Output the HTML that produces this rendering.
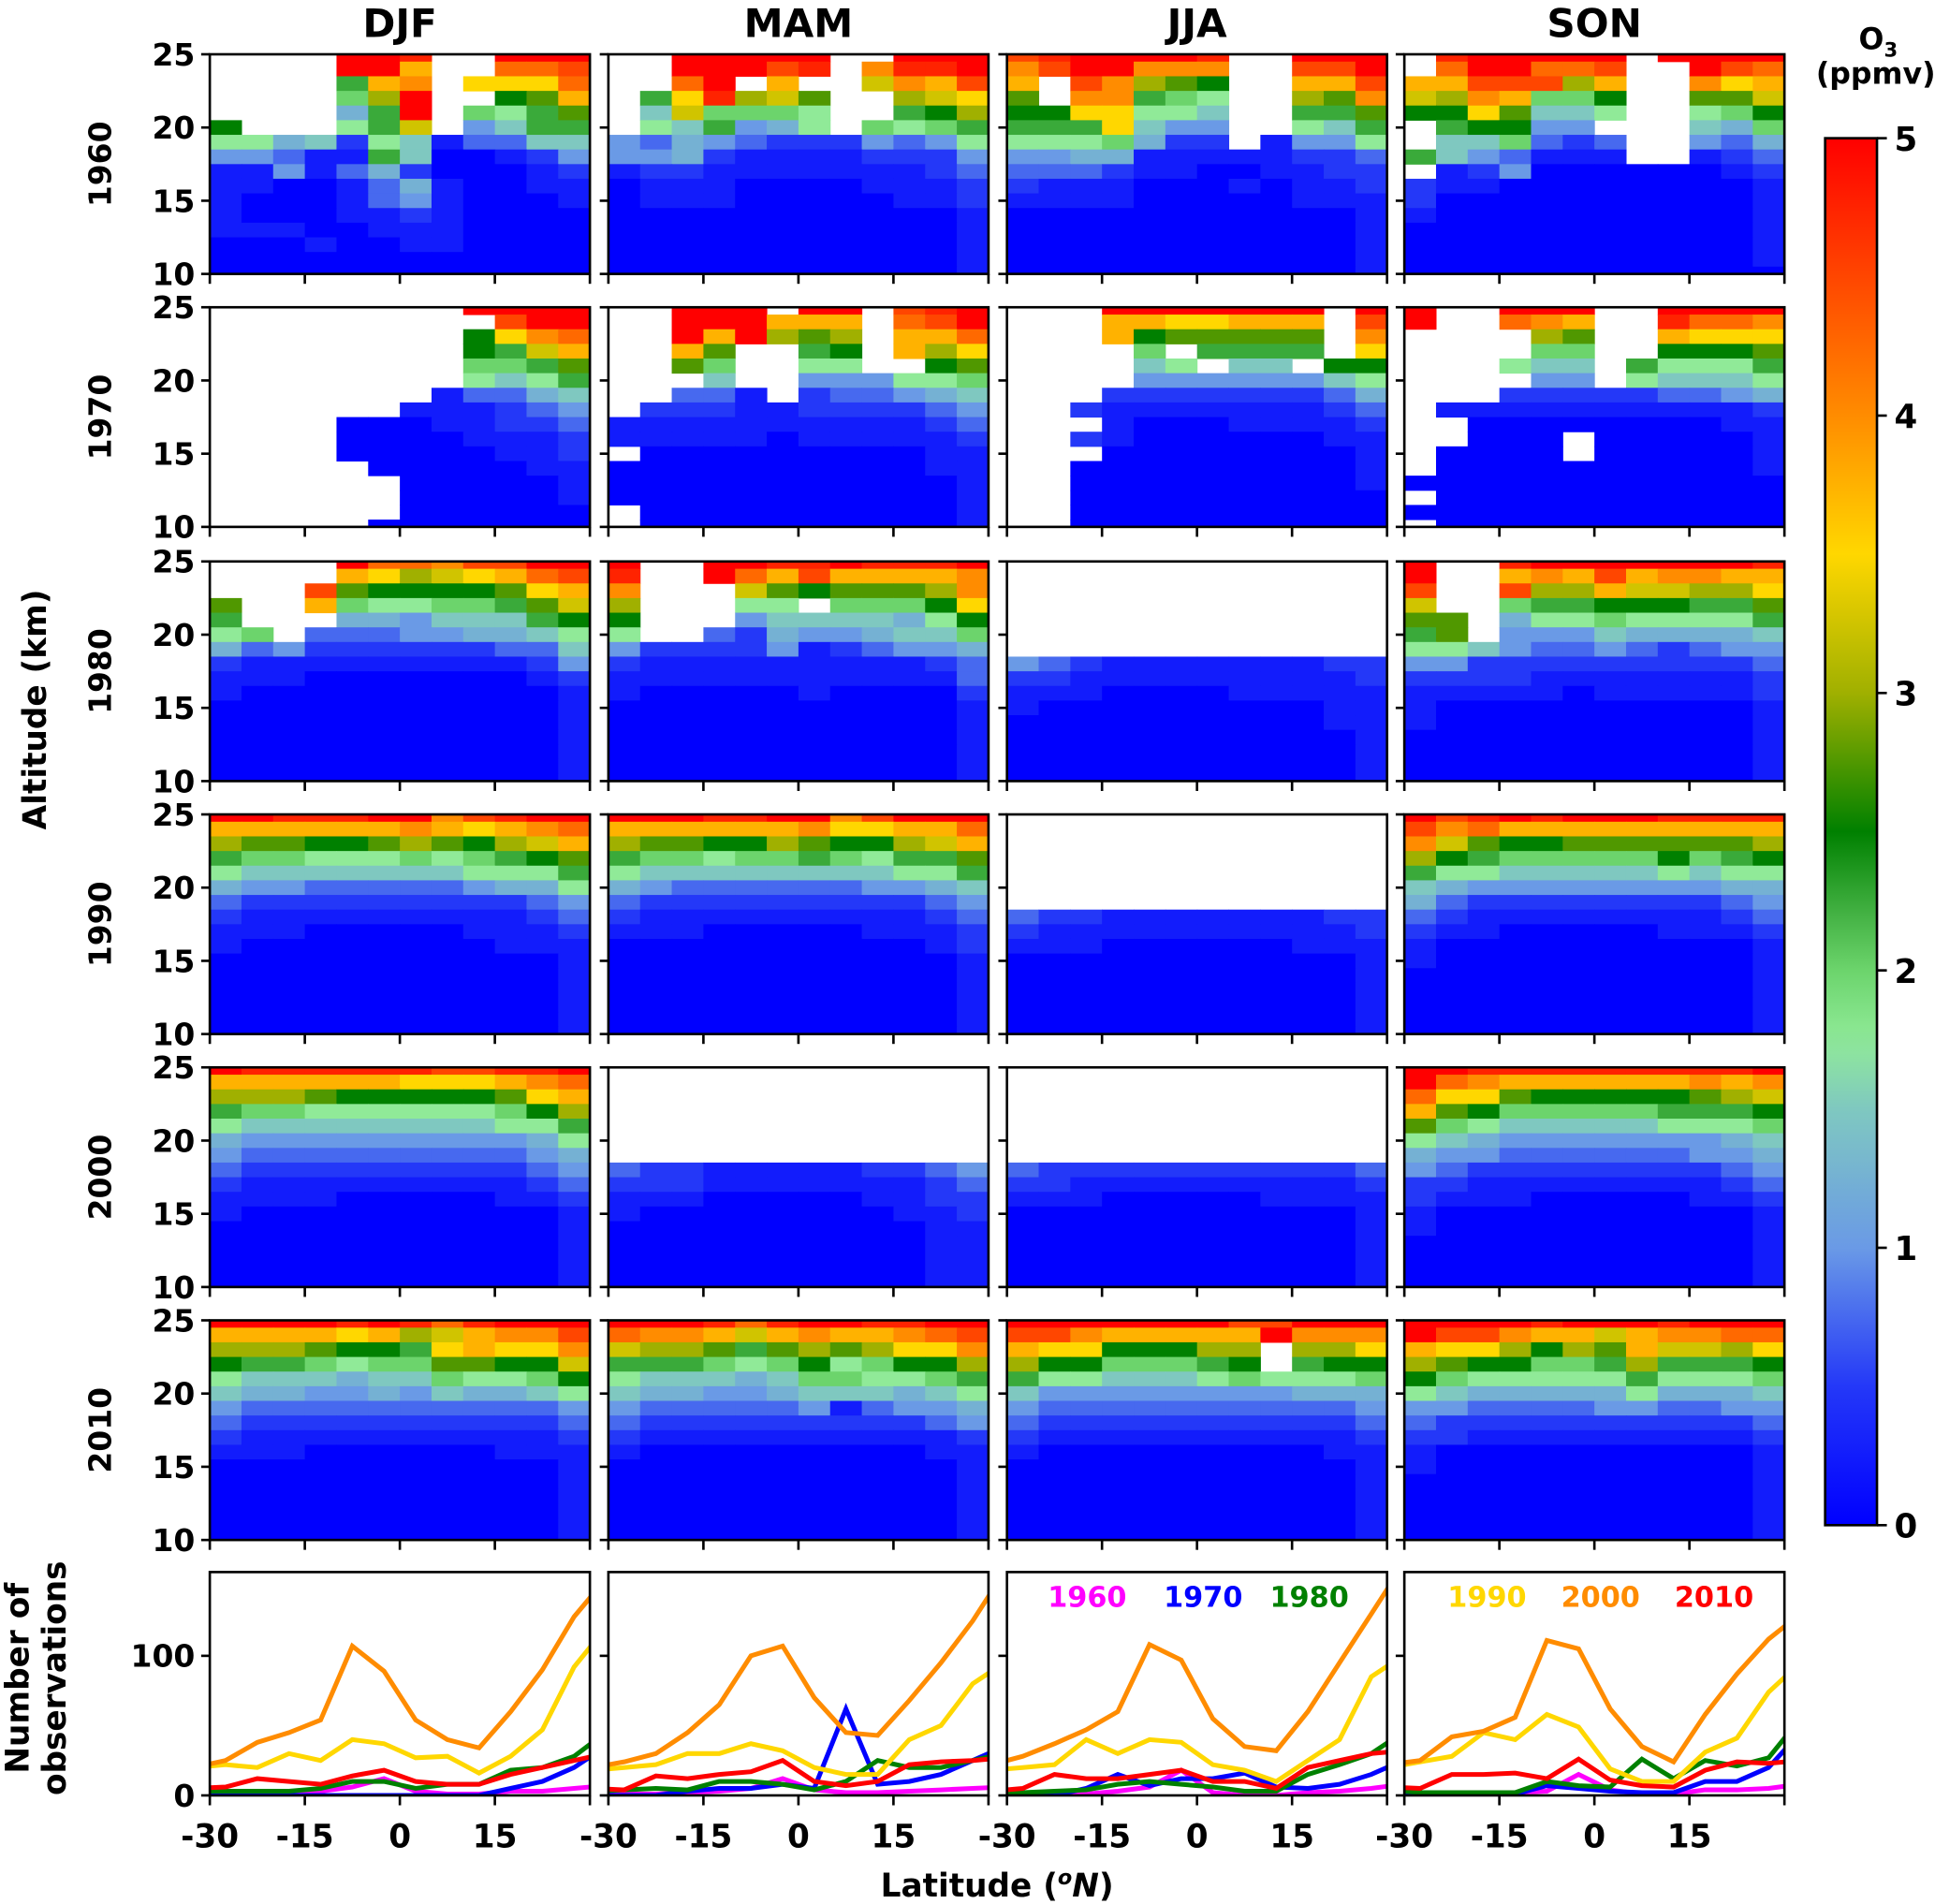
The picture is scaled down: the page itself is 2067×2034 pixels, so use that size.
<!DOCTYPE html>
<html><head><meta charset="utf-8">
<style>
html,body{margin:0;padding:0;background:#fff;}
svg{display:block;font-family:"DejaVu Sans","Liberation Sans",sans-serif;font-weight:bold;}
</style></head>
<body>
<svg id="fig" width="2067" height="2034" viewBox="0 0 1568 1543" xmlns="http://www.w3.org/2000/svg"></svg>
<script>
// ---------- data ----------
const seasons = ["DJF","MAM","JJA","SON"];
const decades = ["1960","1970","1980","1990","2000","2010"];
const altTicks = [10,15,20,25];
const latTicks = [-30,-15,0,15,30];
const latTickLabels = ["-30","-15","0","15",""];
const cbTicks = [0,1,2,3,4,5];
const obsTicks = [0,100];
const obsLat = [-32.5,-27.5,-22.5,-17.5,-12.5,-7.5,-2.5,2.5,7.5,12.5,17.5,22.5,27.5,32.5];
// ozone grids: 16 rows (25 km .. 10 km), 12 lat bins (-30..30); char = value*4 in base 36, '.' = missing
const o3_DJF_1960 = ["....kkj..kkk","....kkf..hhi","....9fg.eeeh","....8ck..abf","....59k.879b","a...79d.4699","775627613366","443119600124","114135200012","110013510011","100013410001","100011210000","111001110000","000100110000","000000000000","000000000000"];
const o3_MAM_1960 = ["..kkkkk..kkk","..kkkij.gjjk","..hk.f..dgfi",".9ejcdb..cde",".6d8887..9ac",".769457.8789","435432224347","445211112224","122111111123","011100001112","011100000112","000000000001","000000000001","000000000001","000000000001","000000000001"];
const o3_JJA_1960 = ["ijkkkkj..kkk","gikkggg..iik","f.igcba..ffi","b.gg987..cbg","aaee776..99b","999e644..769","7778522.1447","445511111223","333211001122","211100010112","111100000111","000000000001","000000000001","000000000001","000000000001","000000000001"];
const o3_SON_1960 = [".jkkkkk.kkkk",".hkkhhi..kih","ffiiicf..gef","dcgf88a..bbd","aaeb667..78a",".9aa44...658",".668323..435","9643111..123",".12400000012","211000000001","200000000001","100000000001","000000000001","000000000001","000000000001","000000000000"];
const o3_DJF_1970 = ["........kkkk",".........ikk","........aegh","........a9df","........889b","........7679",".......13356","......111234","....00011223","....00001112","....00000112",".....0000011","......000001","......000001","......000000",".....0000000"];
const o3_MAM_1970 = ["..kkk.kk.ijk","..kkkfff.hik","..kfkcbc.ffh","..fb..9a.fce","..b8..77..ab","...6..444778","..331.233456",".22211222234","111111111123","111110111112",".00000000011","000000000011","000000000001","000000000001",".00000000001",".00000000001"];
const o3_JJA_1970 = ["...kkkkkkk.k","...ffeefff.i","...fabbbbb.g","....8.9999.e","....67.66.aa","....44444467","...222222235","..2111111123","...100011112","..2100000011","...000000001","..0000000001","..0000000001","..0000000000","..0000000000","..0000000000"];
const o3_SON_1970 = ["k..kkk..kkkk","k..hgf..jhhg","....cb..feee","....88..aaab","...766.97779","....44.76667","...222223345",".11111111112","..0000000011","..000.000001",".0000.000001",".00000000001","000000000000",".00000000000","000000000000",".00000000000"];
const o3_DJF_1980 = ["....khhgiikk","....fecdefhi","...ibaaaabef","b..f877889bd","9...5546669a","78.333445567","534222222336","211111111124","111000000012","100000000001","000000000001","000000000001","000000000001","000000000001","000000000001","000000000001"];
const o3_MAM_1980 = ["k..kkjjkjjjk","j..khfiffffg","g...dbabbbcg","c...77.888ae","a...4666657a","7..325445668","422224123445","211111111123","111111111113","100000100002","000000000001","000000000001","000000000001","000000000001","000000000001","000000000001"];
const o3_JJA_1980 = ["............","............","............","............","............","............","............","432111111122","221111111112","111000011111","100000000011","000000000011","000000000001","000000000001","000000000001","000000000001"];
const o3_SON_1980 = ["k..jkkkkkkkj","k..fgfifggff","i..iccfddcce","d..899aaa99b","bb.577877779","9b.444655556","776433432344","442222222223","222211111112","111110111112","100000000001","100000000001","000000000001","000000000001","000000000001","000000000001"];
const o3_DJF_1990 = ["kkjjjkkgijkk","ffffffgfefgh","cbbaabcbacdf","9887778789ab","766666667779","544333334557","322222222234","211111111123","111000001112","100000000111","000000000001","000000000001","000000000001","000000000001","000000000001","000000000001"];
const o3_MAM_1990 = ["kkkjjkkgikkk","ffffffgeeffh","cbbaacbaacdf","98878898799b","766666666779","543333334456","322222222234","211111111123","111000001112","000000000012","000000000001","000000000001","000000000001","000000000001","000000000001","000000000001"];
const o3_JJA_1990 = ["............","............","............","............","............","............","............","322111111122","211111111112","111000000111","000000000001","000000000001","000000000001","000000000001","000000000001","000000000001"];
const o3_SON_1990 = ["kijkjkkkjjjj","ighfffffffff","gdbaabbbbbbc","ca988888a89a","977666667677","654444444455","532222222234","321111111123","211000001112","100000000001","100000000001","000000000001","000000000001","000000000001","000000000001","000000000001"];
const o3_DJF_2000 = ["kjjjjjjiijjk","ffffffeeefgh","cccbaaaaabef","9887777778ac","766666666779","544444444457","433333333345","322222222234","211111111123","111100000112","100000000001","000000000001","000000000001","000000000001","000000000001","000000000001"];
const o3_MAM_2000 = ["............","............","............","............","............","............","............","322111112234","222111111123","111000001122","100000000112","000000000011","000000000011","000000000011","000000000011","000000000011"];
const o3_JJA_2000 = ["............","............","............","............","............","............","............","322222222223","221111111112","111000001111","000000000001","000000000001","000000000001","000000000001","000000000001","000000000001"];
const o3_SON_2000 = ["kkjjjjjjjjjk","khgffffffgfg","heebaaaaabcd","fba88888999a","b87666667778","765444444456","544333333445","432222222234","221111111123","211100000112","100000000001","100000000001","000000000001","000000000001","000000000001","000000000001"];
const o3_DJF_2010 = ["kkkkjkjhjkkk","ffffefcdfggi","cccbaa9efeeg","a998788bbaad","76665668778a","655445465567","433333333334","322222222223","211111111112","111000000111","000000000001","000000000001","000000000001","000000000001","000000000001","000000000001"];
const o3_MAM_2010 = ["kkkjhjkkjjkk","hggfdfgffghi","dccb9bcbceeg","999878a78aac","766656887789","655445666567","433333413445","322222222234","211111111112","100000000011","000000000001","000000000001","000000000001","000000000001","000000000001","000000000001"];
const o3_JJA_2010 = ["kkkkkkkiikkk","iigfffffkggg","feeaaacc.cce","caa8889a.9aa","977666787778","644444444555","433333333334","322222222223","211111111112","100000000011","000000000001","000000000001","000000000001","000000000001","000000000001","000000000001"];
const o3_SON_2010 = ["kkkkjkkkjkkk","kiigffdfgghh","feecacbfddce","cbaa889c999a","a87777797778","765555575556","443333443344","322222222223","221111111112","100000000001","100000000001","000000000001","000000000001","000000000001","000000000001","000000000001"];
// number of observations per season (series by decade)
const obs_DJF_1960 = [0,0,0,0,3,6,12,3,1,1,3,3,5,7];
const obs_DJF_1970 = [0,0,0,0,0,0,0,0,0,0,5,10,20,35];
const obs_DJF_1980 = [3,3,3,3,5,10,10,5,8,8,18,20,28,45];
const obs_DJF_1990 = [20,22,20,30,25,40,37,27,28,16,28,47,92,120];
const obs_DJF_2000 = [20,25,38,45,54,107,89,54,40,34,60,90,128,155];
const obs_DJF_2010 = [5,6,12,10,8,14,18,10,8,8,15,20,25,30];
const obs_MAM_1960 = [0,1,1,2,3,5,12,4,2,2,3,4,5,6];
const obs_MAM_1970 = [0,0,0,3,5,5,8,5,62,8,10,15,25,35];
const obs_MAM_1980 = [3,4,5,4,10,10,8,4,10,25,20,20,25,30];
const obs_MAM_1990 = [18,20,22,30,30,37,32,20,15,15,40,50,80,95];
const obs_MAM_2000 = [20,24,30,45,65,100,107,70,45,43,68,95,125,160];
const obs_MAM_2010 = [5,4,14,12,15,17,25,10,7,10,22,24,25,27];
const obs_JJA_1960 = [0,0,0,1,3,6,18,2,0,0,2,3,5,8];
const obs_JJA_1970 = [0,0,0,5,15,7,12,12,16,6,5,8,15,25];
const obs_JJA_1980 = [2,2,3,4,8,10,8,6,3,3,15,22,30,45];
const obs_JJA_1990 = [18,20,22,40,30,40,38,22,18,10,25,40,85,100];
const obs_JJA_2000 = [22,28,37,47,60,108,97,55,35,32,60,95,130,165];
const obs_JJA_2010 = [3,5,15,12,12,15,18,10,10,5,20,25,30,32];
const obs_SON_1960 = [0,0,1,2,2,3,15,4,1,1,4,4,5,8];
const obs_SON_1970 = [1,1,1,1,1,7,5,3,2,2,10,10,20,45];
const obs_SON_1980 = [4,2,2,2,2,10,7,6,26,12,25,21,27,55];
const obs_SON_1990 = [20,24,28,45,40,58,49,19,10,10,31,41,74,95];
const obs_SON_2000 = [22,25,42,46,56,111,105,62,35,24,58,87,112,130];
const obs_SON_2010 = [6,5,15,15,16,12,26,11,7,6,18,24,23,25];

const o3Grids = {DJF:[o3_DJF_1960,o3_DJF_1970,o3_DJF_1980,o3_DJF_1990,o3_DJF_2000,o3_DJF_2010],
 MAM:[o3_MAM_1960,o3_MAM_1970,o3_MAM_1980,o3_MAM_1990,o3_MAM_2000,o3_MAM_2010],
 JJA:[o3_JJA_1960,o3_JJA_1970,o3_JJA_1980,o3_JJA_1990,o3_JJA_2000,o3_JJA_2010],
 SON:[o3_SON_1960,o3_SON_1970,o3_SON_1980,o3_SON_1990,o3_SON_2000,o3_SON_2010]};
const obsSeries = {DJF:[obs_DJF_1960,obs_DJF_1970,obs_DJF_1980,obs_DJF_1990,obs_DJF_2000,obs_DJF_2010],
 MAM:[obs_MAM_1960,obs_MAM_1970,obs_MAM_1980,obs_MAM_1990,obs_MAM_2000,obs_MAM_2010],
 JJA:[obs_JJA_1960,obs_JJA_1970,obs_JJA_1980,obs_JJA_1990,obs_JJA_2000,obs_JJA_2010],
 SON:[obs_SON_1960,obs_SON_1970,obs_SON_1980,obs_SON_1990,obs_SON_2000,obs_SON_2010]};
const decadeColors = ["#ff00ff","#0000ff","#008000","#ffd700","#ff8c00","#ff0000"];

// ---------- layout ----------
const NS="http://www.w3.org/2000/svg";
const svg=document.getElementById('fig');
const colX=[170,493,816,1138], PW=308;
const rowY=[44,249,455,660,865,1070], PH=178;
const obsY=1274, obsH=181;
function el(tag,attrs,parent){const e=document.createElementNS(NS,tag);for(const k in attrs)e.setAttribute(k,attrs[k]);(parent||svg).appendChild(e);return e;}
function txt(x,y,s,size,anchor,parent,fill){const t=el('text',{x:x,y:y,'font-size':size,'text-anchor':anchor||'middle',fill:fill||'#000'},parent);t.textContent=s;return t;}
const stops=[[0,[0,0,255]],[0.5,[36,56,248]],[1,[106,154,230]],[1.5,[127,200,192]],[1.75,[144,234,152]],[2,[108,212,108]],[2.25,[58,170,58]],[2.5,[0,128,0]],[3,[160,176,0]],[3.5,[255,215,0]],[4,[255,140,0]],[5,[255,0,0]]];
function cmap(v){v=Math.max(0,Math.min(5,v));for(let i=1;i<stops.length;i++){if(v<=stops[i][0]){const a=stops[i-1],b=stops[i];const t=(v-a[0])/(b[0]-a[0]);const c=a[1].map((x,j)=>Math.round(x+(b[1][j]-x)*t));return `rgb(${c[0]},${c[1]},${c[2]})`;}}return 'rgb(255,0,0)';}
const xs=(x0,lat)=>x0+(lat+30)/60*PW;
const ys=(y0,alt)=>y0+(25-alt)/15*PH;

// column titles
seasons.forEach((s,ci)=>{const t=txt(colX[ci]+PW/2,30,s,32,'middle');});

// heatmap panels
seasons.forEach((s,ci)=>{
  decades.forEach((d,ri)=>{
    const x0=colX[ci], y0=rowY[ri];
    const g=el('g',{});
    
    
    const grid=o3Grids[s][ri];
    grid.forEach((row,r)=>{
      const alt=25-r;
      const top=Math.min(25,alt+0.5), bot=Math.max(10,alt-0.5);
      for(let c=0;c<12;c++){
        const ch=row[c]; if(!ch||ch==='.')continue;
        const v=parseInt(ch,36)/4;
        const latA=-30+5*c;
        const xa=xs(x0,latA), xb=xs(x0,latA+5);
        const ya=ys(y0,top), yb=ys(y0,bot);
        const rc=el('rect',{x:xa.toFixed(2),y:ya.toFixed(2),width:(xb-xa+0.4).toFixed(2),height:(yb-ya+0.4).toFixed(2),fill:cmap(v)},g);
        
        
      }
    });
    const fr=el('rect',{x:x0,y:y0,width:PW,height:PH,fill:'none',stroke:'#000','stroke-width':2});
    
    
    altTicks.forEach(a=>{const yy=ys(y0,a);el('line',{x1:x0-7,x2:x0,y1:yy,y2:yy,stroke:'#000','stroke-width':2});
      if(ci===0){const t=txt(x0-12,yy+9,String(a),25,'end');}});
    latTicks.forEach(l=>{const xx=xs(x0,l);el('line',{x1:xx,x2:xx,y1:y0+PH,y2:y0+PH+8,stroke:'#000','stroke-width':2});});
    if(ci===0){const t=el('text',{x:0,y:0,'font-size':25,'text-anchor':'middle',transform:`translate(${x0-80},${y0+PH/2}) rotate(-90)`});t.textContent=d;}
  });
});

// observation panels
seasons.forEach((s,ci)=>{
  const x0=colX[ci], y0=obsY;
  const yv=v=>y0+obsH-v/160*obsH;
  const cp=el('clipPath',{id:'clip'+ci});el('rect',{x:x0,y:y0,width:PW,height:obsH},cp);
  const g=el('g',{'clip-path':`url(#clip${ci})`});
  
  
  obsSeries[s].forEach((ser,k)=>{
    const pts=ser.map((v,i)=>xs(x0,obsLat[i]).toFixed(1)+','+yv(v).toFixed(1)).join(' ');
    const pl=el('polyline',{points:pts,fill:'none',stroke:decadeColors[k],'stroke-width':3.8,'stroke-linejoin':'miter'},g);
    
    
  });
  const fr=el('rect',{x:x0,y:y0,width:PW,height:obsH,fill:'none',stroke:'#000','stroke-width':2});
  
  
  obsTicks.forEach(v=>{const yy=yv(v);el('line',{x1:x0-7,x2:x0,y1:yy,y2:yy,stroke:'#000','stroke-width':2});
    if(ci===0){const t=txt(x0-12,yy+9,String(v),25,'end');}});
  latTicks.forEach((l,i)=>{const xx=xs(x0,l);el('line',{x1:xx,x2:xx,y1:y0+obsH,y2:y0+obsH+8,stroke:'#000','stroke-width':2});
    if(latTickLabels[i]){const t=txt(xx,y0+obsH+42,latTickLabels[i],26,'middle');}});
});

// legend
const legX=[881,975,1061,1205,1297,1389];
decades.forEach((d,k)=>{const t=txt(legX[k],1302,d,23,'middle',null,decadeColors[k]);});

// axis titles
(function(){
  let t=el('text',{x:0,y:0,'font-size':26,'text-anchor':'middle',transform:'translate(37,575) rotate(-90)'});t.textContent='Altitude (km)';
  
  t=el('text',{x:0,y:0,'font-size':26,'text-anchor':'middle',transform:'translate(23,1360) rotate(-90)'});t.textContent='Number of';
  
  t=el('text',{x:0,y:0,'font-size':26,'text-anchor':'middle',transform:'translate(53,1360) rotate(-90)'});t.textContent='observations';
  
  t=el('text',{x:808,y:1537,'font-size':26,'text-anchor':'middle'});
  
  t.appendChild(document.createTextNode('Latitude ('));
  let sp=el('tspan',{'font-size':17,dy:-10,'font-style':'italic'},t);sp.textContent='o';
  sp=el('tspan',{dy:10,'font-style':'italic'},t);sp.textContent='N';
  sp=el('tspan',{},t);sp.textContent=')';
})();

// colorbar
(function(){
  const cx=1479,cw=42,cy0=112,cy1=1236;
  const grad=el('linearGradient',{id:'cbg',x1:0,y1:1,x2:0,y2:0});
  for(let i=0;i<=50;i++){const v=i/10;el('stop',{offset:(i/50),'stop-color':cmap(v)},grad);}
  const r=el('rect',{x:cx,y:cy0,width:cw,height:cy1-cy0,fill:'url(#cbg)',stroke:'#000','stroke-width':2});
  
  cbTicks.forEach(v=>{const yy=cy1-(v/5)*(cy1-cy0);el('line',{x1:cx+cw,x2:cx+cw+8,y1:yy,y2:yy,stroke:'#000','stroke-width':2});
    const t=txt(cx+cw+14,yy+10,String(v),27,'start');});
  let t=el('text',{x:1522,y:40,'font-size':24,'text-anchor':'middle'});
  
  t.appendChild(document.createTextNode('O'));const s=el('tspan',{'font-size':16,dy:6},t);s.textContent='3';
  t=txt(1520,68,'(ppmv)',24,'middle');
})();
</script>
</body></html>
